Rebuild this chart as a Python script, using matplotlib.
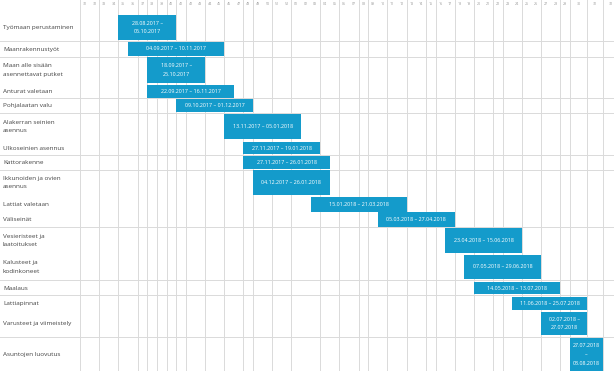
import datetime as dt
import numpy as np
import matplotlib
matplotlib.use('Agg')
import matplotlib.pyplot as plt

# ---- data ----
tasks = [
    'Työmaan perustaminen', 'Maanrakennustyöt', 'Maan alle sisään\nasennettavat putket',
    'Anturat valetaan', 'Pohjalaatan valu', 'Alakerran seinien\nasennus',
    'Ulkoseinien asennus', 'Kattorakenne', 'Ikkunoiden ja ovien\nasennus',
    'Lattiat valetaan', 'Väliseinät', 'Vesieristeet ja\nlaatoitukset',
    'Kalusteet ja\nkodinkoneet', 'Maalaus', 'Lattiapinnat',
    'Varusteet ja viimeistely', 'Asuntojen luovutus',
]
starts = [
    '28.08.2017', '04.09.2017', '18.09.2017', '22.09.2017', '09.10.2017',
    '13.11.2017', '27.11.2017', '27.11.2017', '04.12.2017', '15.01.2018',
    '05.03.2018', '23.04.2018', '07.05.2018', '14.05.2018', '11.06.2018',
    '02.07.2018', '27.07.2018',
]
ends = [
    '06.10.2017', '10.11.2017', '25.10.2017', '16.11.2017', '01.12.2017',
    '05.01.2018', '19.01.2018', '26.01.2018', '26.01.2018', '21.03.2018',
    '27.04.2018', '15.06.2018', '29.06.2018', '13.07.2018', '25.07.2018',
    '27.07.2018', '03.08.2018',
]
week_labels = ['31', '32', '33', '34', '35', '36', '37', '38', '39', '40', '41',
               '42', '43', '44', '45', '46', '47', '48', '49', '50', '51', '52',
               '01', '02', '03', '04', '05', '06', '07', '08', '09', '10', '11',
               '12', '13', '14', '15', '16', '17', '18', '19', '20', '21', '22',
               '23', '24', '25', '26', '27', '28', '29', '30', '31', '32']

# captions that wrap inside narrow bars
split_text = {0: '{} –\n{}', 2: '{} –\n{}', 15: '{} –\n{}', 16: '{}\n–\n{}'}

# ---- layout (pixels, top = 0) ----
W, H = 614, 371
# week columns: equal width, except the last ones which the table widened
col_idx = [-10, 51, 52, 53, 54]
col_px = [80 - 96, 570, 587, 603, 619]
bar_top = [15, 42, 57, 85, 99, 114, 142, 156, 170, 197, 212, 228, 255, 282, 297, 312, 338]
bar_h = [25, 14, 26, 13, 13, 25, 12, 13, 25, 15, 15, 25, 24, 12, 13, 23, 33]
hlines = [41, 57, 98, 113, 155, 170, 227, 280, 295, 337]
vlines = [0, 2, 4, 6, 7, 8, 9, 10, 11, 13, 15, 17, 18, 20, 22, 25, 27, 29, 30,
          32, 34, 36, 37, 39, 41, 43, 44, 46, 48, 50, 51, 52, 53]

BLUE = '#149bcb'
GRID = '#dadada'
origin = dt.datetime(2017, 7, 31)   # monday of week 31


def week_of(s):
    return (dt.datetime.strptime(s, '%d.%m.%Y') - origin).days // 7


def fwd(x):
    return np.interp(x, col_idx, col_px)


def inv(p):
    return np.interp(p, col_px, col_idx)


fig = plt.figure(figsize=(W / 100, H / 100), dpi=100)
ax = fig.add_axes([0, 0, 1, 1])
ax.set_xscale('function', functions=(fwd, inv))
ax.set_xlim(float(inv(0)), float(inv(W)))
ax.set_ylim(H, 0)
ax.axis('off')
lab_tr = ax.get_yaxis_transform()

for v in vlines:
    ax.axvline(v, color=GRID, lw=0.7, zorder=1)
for h in hlines:
    ax.axhline(h, color=GRID, lw=0.7, zorder=1)

for i, lab in enumerate(week_labels):
    ax.text(i + 0.5, 4, lab, ha='center', va='center', fontsize=2.6,
            color='#9a9a9a', family='Open Sans')

for i, task in enumerate(tasks):
    s, e = week_of(starts[i]), week_of(ends[i]) + 1
    y, hgt = bar_top[i], bar_h[i]
    ax.barh(y + hgt / 2, e - s, left=s, height=hgt, color=BLUE, zorder=3)
    xm = inv((fwd(s) + fwd(e)) / 2)
    fmt = split_text.get(i, '{} – {}')
    ax.text(xm, y + hgt / 2, fmt.format(starts[i], ends[i]),
            ha='center', va='center', fontsize=3.9, color='white',
            family='Open Sans', linespacing=1.9, zorder=4)
    ax.text(3 / W, y + hgt / 2, task, transform=lab_tr, ha='left', va='center',
            fontsize=4.6, color='#444444', family='Open Sans', linespacing=1.9)

fig.savefig('out.png', dpi=100)
